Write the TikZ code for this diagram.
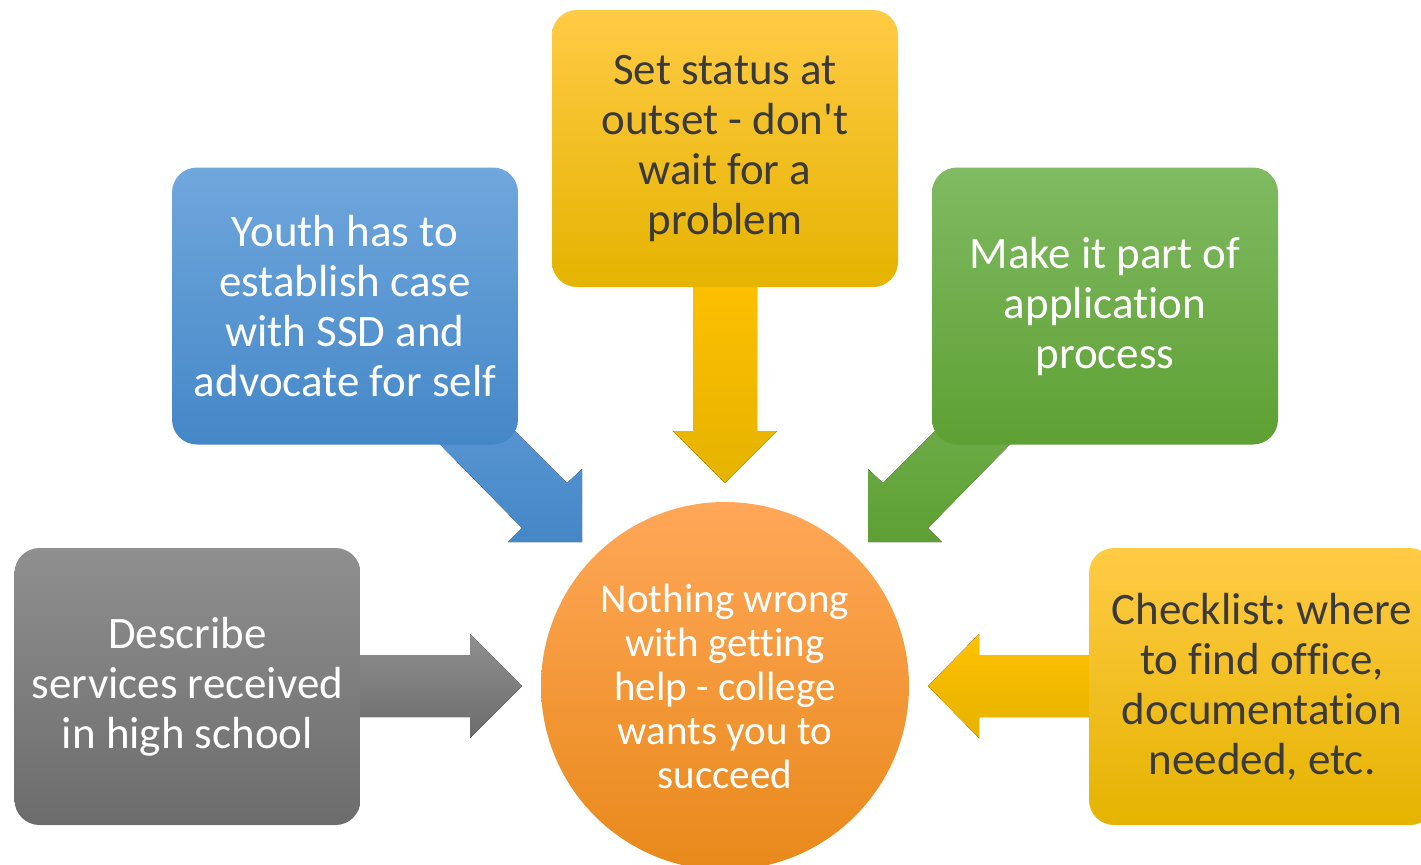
\documentclass[tikz,border=0pt]{standalone}
\usepackage{fontspec}
\setmainfont{Carlito}[Ligatures=NoCommon]
\frenchspacing
\definecolor{ytop}{HTML}{FFCB45}
\definecolor{ymid}{HTML}{FFC000}
\definecolor{ybot}{HTML}{E5B300}
\definecolor{btop}{HTML}{70A7DD}
\definecolor{bbot}{HTML}{4487C7}
\definecolor{gtop}{HTML}{80BA62}
\definecolor{gbot}{HTML}{5EA033}
\definecolor{ktop}{HTML}{8F8F8F}
\definecolor{kbot}{HTML}{6C6C6C}
\definecolor{otop}{HTML}{FFA758}
\definecolor{omid}{HTML}{FF9A2E}
\definecolor{obot}{HTML}{E8891A}
\definecolor{dtext}{HTML}{3A3A3A}
\tikzset{
  box/.style={rounded corners=12.5pt, minimum width=173pt, minimum height=138.5pt,
    inner sep=0pt, align=center,
    font=\fontsize{22.5}{25}\selectfont},
  yellowbox/.style={box, top color=ytop, middle color=ymid, bottom color=ybot, text=dtext},
  bluebox/.style={box, top color=btop, bottom color=bbot, text=white},
  greenbox/.style={box, top color=gtop, bottom color=gbot, text=white},
  graybox/.style={box, top color=ktop, bottom color=kbot, text=white},
  yarrow/.style={top color=ymid, bottom color=ybot},
  barrow/.style={top color=btop!60!bbot, bottom color=bbot},
  garrow/.style={top color=gtop!60!gbot, bottom color=gbot},
  karrow/.style={top color=ktop, bottom color=kbot},
}
\begin{document}
\begin{tikzpicture}[x=0.5pt, y=-0.5pt]
\useasboundingbox (0,0) rectangle (1421,864);
\clip (0,0) rectangle (1421,864);
% block arrows (behind the boxes)
\fill[yarrow] (693,270) -- (757,270) -- (757,431) -- (777,431) -- (725,483) -- (673,431) -- (693,431) -- cycle;
\fill[barrow] (418,422) -- (462,378) -- (567,483) -- (582,469) -- (582,542) -- (508,542) -- (522,528) -- cycle;
\fill[garrow] (1032,422) -- (988,378) -- (883,483) -- (868,469) -- (868,542) -- (942,542) -- (928,528) -- cycle;
\fill[karrow] (340,655) -- (470,655) -- (470,634) -- (522,686) -- (470,738) -- (470,717) -- (340,717) -- cycle;
\fill[yarrow] (1110,655) -- (979,655) -- (979,634) -- (928,686) -- (979,738) -- (979,717) -- (1110,717) -- cycle;
% boxes
\node[graybox] (gray) at (187.5,686.5) {Describe\\services received\\in high school};
\node[bluebox] (blue) at (345,306) {Youth has to\\establish case\\with SSD and\\advocate for self};
\node[yellowbox] (top) at (725,148.5) {Set status at\\outset - don\textquotesingle t\\wait for a\\problem};
\node[greenbox] (green) at (1105,306) {Make it part of\\application\\process};
\node[yellowbox] (right) at (1262,686.5) {Checklist: where\\to find office,\\documentation\\needed, etc.};
% centre circle
\node[circle, minimum size=184pt, inner sep=0pt, top color=otop, middle color=omid, bottom color=obot,
  text=white, align=center, font=\fontsize{20.5}{22}\selectfont] (hub) at (725,686)
  {Nothing wrong\\with getting\\help - college\\wants you to\\succeed};
\end{tikzpicture}
\end{document}
